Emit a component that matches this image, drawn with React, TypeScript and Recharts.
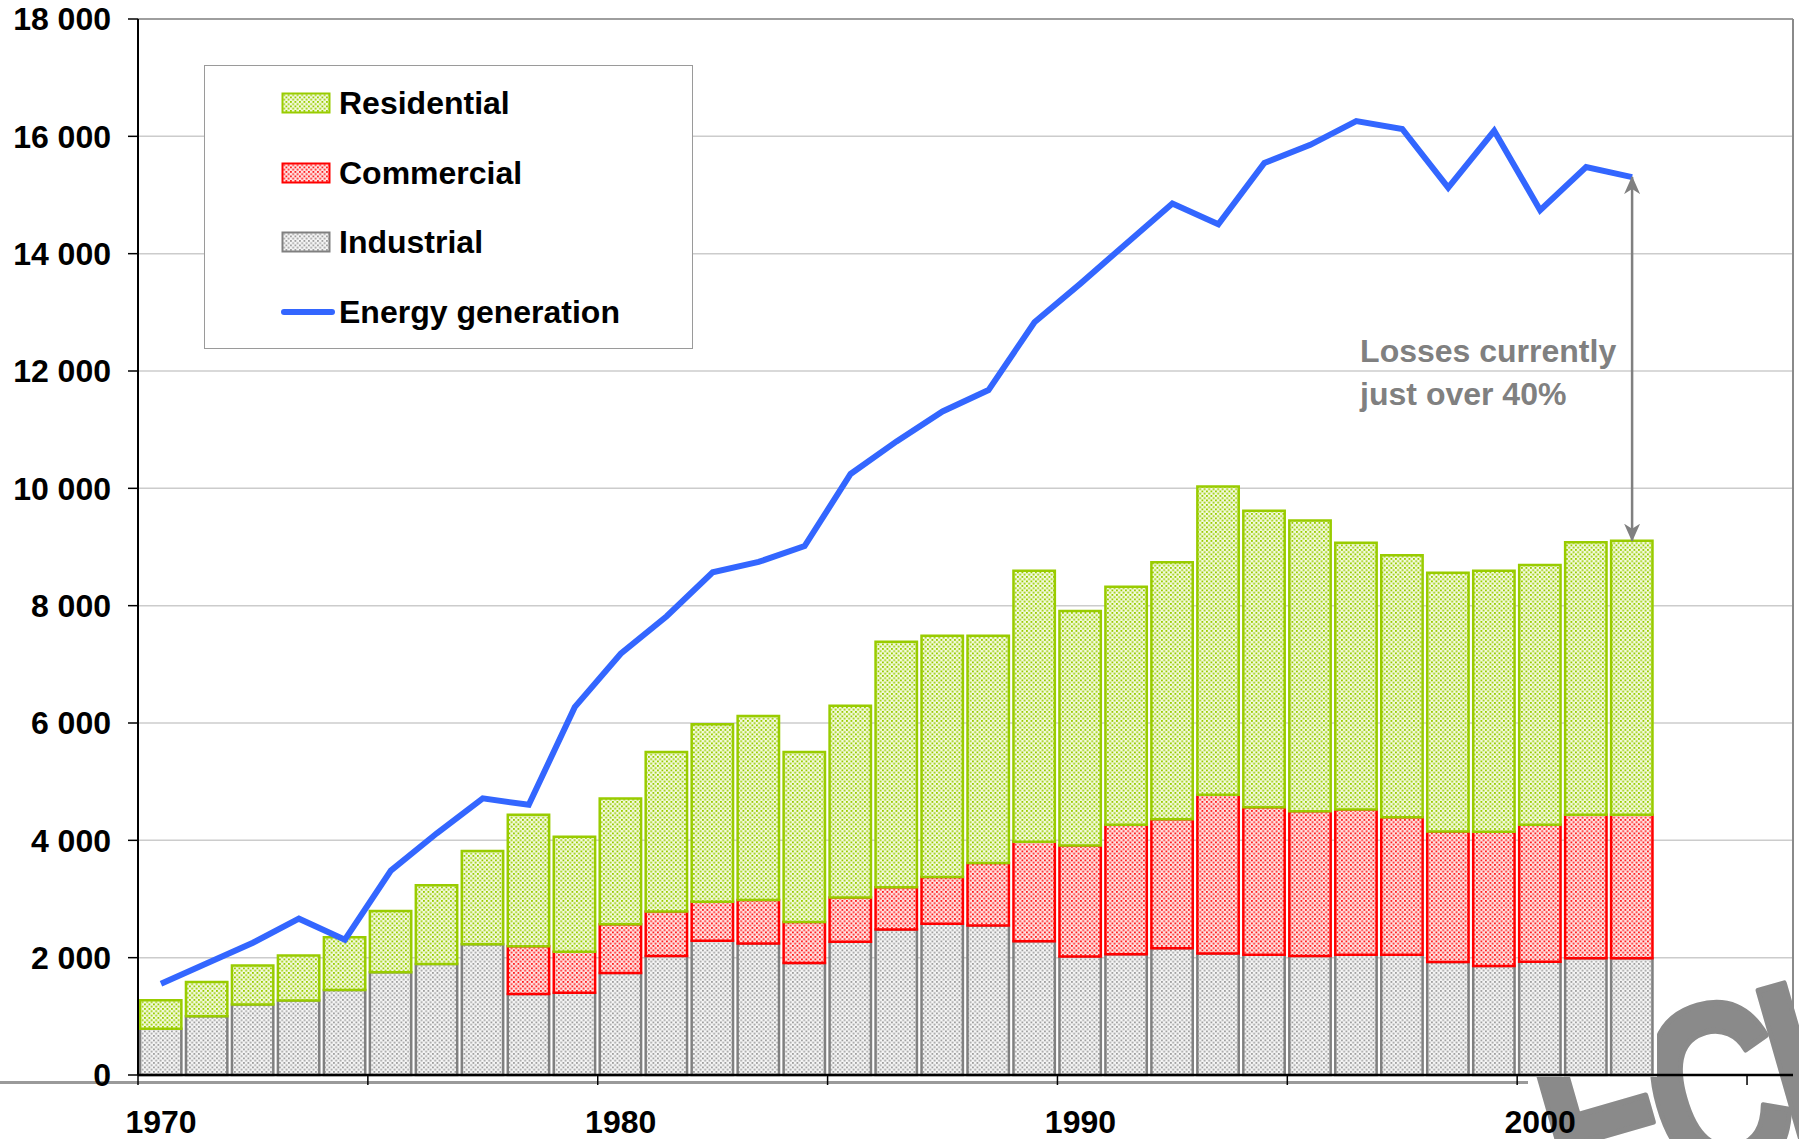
import React from "react";
import {
  ComposedChart,
  Bar,
  Line,
  XAxis,
  YAxis,
  CartesianGrid,
  Legend,
  ReferenceLine,
} from "recharts";

// values, one per year 1970..2002
const YEARS = [
  1970, 1971, 1972, 1973, 1974, 1975, 1976, 1977, 1978, 1979, 1980, 1981,
  1982, 1983, 1984, 1985, 1986, 1987, 1988, 1989, 1990, 1991, 1992, 1993,
  1994, 1995, 1996, 1997, 1998, 1999, 2000, 2001, 2002,
];
const INDUSTRIAL = [
  790, 1000, 1200, 1270, 1450, 1750, 1890, 2230, 1380, 1400, 1740, 2030,
  2290, 2240, 1910, 2270, 2480, 2580, 2550, 2280, 2020, 2060, 2160, 2070,
  2050, 2030, 2050, 2050, 1925, 1860, 1930, 1990, 1990,
];
const COMMERCIAL = [
  null, null, null, null, null, null, null, null, 815, 700, 830, 755,
  662, 745, 700, 757, 720, 795, 1065, 1695, 1892, 2205, 2200, 2705,
  2512, 2465, 2475, 2345, 2225, 2285, 2335, 2445, 2445,
];
const RESIDENTIAL = [
  485, 585, 665, 765, 900, 1045, 1345, 1590, 2240, 1960, 2142, 2720,
  3028, 3133, 2895, 3267, 4186, 4111, 3871, 4620, 3998, 4058, 4378, 5255,
  5055, 4955, 4547, 4465, 4410, 4450, 4429, 4645, 4673,
];
const GENERATION = [
  1555, 1905, 2255, 2665, 2305, 3485, 4120, 4715, 4605, 6270, 7180, 7820,
  8570, 8745, 9015, 10245, 10800, 11310, 11675, 12830, 13490, 14175, 14855, 14500,
  15545, 15855, 16260, 16125, 15125, 16095, 14740, 15475, 15305,
];

const X_DOMAIN = [1970, 2006];
const X_TICKS = [1970, 1975, 1980, 1985, 1990, 1995, 2000, 2005];
const LABELED_YEARS = [1970, 1980, 1990, 2000];
const Y_TICKS = [0, 2000, 4000, 6000, 8000, 10000, 12000, 14000, 16000, 18000];
const LEGEND_ORDER = ["residential", "commercial", "industrial", "generation"];
const NOTE = ["Losses currently", "just over 40%"];

const W = 1799;
const H = 1139;
const MARGIN = { top: 19, right: 6, bottom: 4, left: 0 };
const Y_AXIS_W = 138;
const X_AXIS_H = 60;
const PLOT_W = W - MARGIN.left - MARGIN.right - Y_AXIS_W;
const YEAR_PX = PLOT_W / (X_DOMAIN[1] - X_DOMAIN[0]);
const FONT = "'Liberation Sans', Arial, Helvetica, sans-serif";
const TXT = 32;

const SWATCH: Record<string, { fill?: string; stroke: string }> = {
  residential: { fill: "url(#pat-res)", stroke: "#99CC00" },
  commercial: { fill: "url(#pat-com)", stroke: "#FF0000" },
  industrial: { fill: "url(#pat-ind)", stroke: "#808080" },
  generation: { stroke: "#3366FF" },
};

const data = YEARS.map((year, i) => ({
  year,
  x: year + 0.5,
  industrial: INDUSTRIAL[i],
  commercial: COMMERCIAL[i],
  residential: RESIDENTIAL[i],
  generation: GENERATION[i],
}));

const last = data[data.length - 1];
const lastTotal = last.industrial + (last.commercial || 0) + last.residential;

const fmt = (v: number) => String(v).replace(/\B(?=(\d{3})+(?!\d))/g, " ");

function YearTick(props: any) {
  const { x, y, payload } = props;
  if (!LABELED_YEARS.includes(payload.value)) return null;
  return (
    <text
      x={x + YEAR_PX / 2}
      y={y}
      dy="0.71em"
      textAnchor="middle"
      fontSize={TXT}
      fontWeight={700}
      fill="#000"
    >
      {payload.value}
    </text>
  );
}

function LossArrow(props: any) {
  const { x1, y1, x2, y2 } = props;
  return (
    <g>
      <line
        x1={x1}
        y1={y1}
        x2={x2}
        y2={y2}
        stroke="#808080"
        strokeWidth={2.5}
        markerStart="url(#arrowhead)"
        markerEnd="url(#arrowhead)"
      />
      <text fontSize={TXT} fontWeight={700} fill="#808080">
        <tspan x={x1 - 272} y={y1 + 185}>
          {NOTE[0]}
        </tspan>
        <tspan x={x1 - 272} dy={43}>
          {NOTE[1]}
        </tspan>
      </text>
    </g>
  );
}

function LegendBox({ payload }: any) {
  const items = LEGEND_ORDER.map((k) =>
    (payload || []).find((p: any) => p.dataKey === k)
  ).filter(Boolean);
  return (
    <div
      style={{
        width: 489,
        height: 284,
        boxSizing: "border-box",
        border: "1.5px solid #9a9a9a",
        background: "#fff",
        paddingTop: 2,
        fontFamily: FONT,
      }}
    >
      {items.map((item: any) => {
        const sw = SWATCH[item.dataKey];
        return (
          <div
            key={item.dataKey}
            style={{ display: "flex", alignItems: "center", height: 69.7 }}
          >
            <svg width={54} height={22} style={{ marginLeft: 76 }}>
              {sw.fill ? (
                <rect
                  x={1.5}
                  y={1.5}
                  width={47}
                  height={19}
                  fill={sw.fill}
                  stroke={sw.stroke}
                  strokeWidth={2}
                />
              ) : (
                <line
                  x1={3}
                  y1={11}
                  x2={51}
                  y2={11}
                  stroke={sw.stroke}
                  strokeWidth={6}
                  strokeLinecap="round"
                />
              )}
            </svg>
            <span
              style={{
                marginLeft: 4,
                fontSize: TXT,
                fontWeight: 700,
                color: "#000",
                lineHeight: 1,
              }}
            >
              {item.value}
            </span>
          </div>
        );
      })}
    </div>
  );
}

function Dots({ id, bg, dot }: { id: string; bg: string; dot: string }) {
  return (
    <pattern id={id} width={4.5} height={4.5} patternUnits="userSpaceOnUse">
      <rect width={4.5} height={4.5} fill={bg} />
      <rect x={0} y={0} width={1.8} height={1.8} fill={dot} />
      <rect x={2.25} y={2.25} width={1.8} height={1.8} fill={dot} />
    </pattern>
  );
}

export default function App() {
  return (
    <div
      style={{
        position: "absolute",
        left: 0,
        top: 0,
        width: W,
        height: H,
        background: "#fff",
        overflow: "hidden",
        fontFamily: FONT,
      }}
    >
      <svg width={0} height={0} style={{ position: "absolute" }}>
        <defs>
          <Dots id="pat-res" bg="#F3FADF" dot="#99CC00" />
          <Dots id="pat-com" bg="#FFE3E3" dot="#FF2020" />
          <Dots id="pat-ind" bg="#F6F6F6" dot="#A0A0A0" />
          <marker
            id="arrowhead"
            viewBox="0 0 18 18"
            markerUnits="userSpaceOnUse"
            markerWidth={18}
            markerHeight={18}
            refX={17}
            refY={9}
            orient="auto-start-reverse"
          >
            <path d="M0,1 L18,9 L0,17 L5,9 z" fill="#808080" />
          </marker>
          {/* the logo only shows below the axis and right of the last bar */}
          <clipPath id="logo-clip">
            <path d="M0,1077 H1799 V1139 H0 Z M1657,0 H1799 V1139 H1657 Z" />
          </clipPath>
        </defs>
      </svg>

      {/* watermark logo, cut off by the page edge */}
      <svg
        width={W}
        height={H}
        style={{ position: "absolute", left: 0, top: 0 }}
      >
        <g clipPath="url(#logo-clip)">
          <g transform="translate(1567,1221) rotate(-16) scale(0.78,1)">
            <text
              fontSize={245}
              fontWeight={700}
              letterSpacing={-20}
              fill="#8a8a8a"
              stroke="#8a8a8a"
              strokeWidth={6}
              strokeLinejoin="round"
              fontFamily={FONT}
            >
              ECI
            </text>
          </g>
        </g>
      </svg>

      <div
        style={{
          position: "absolute",
          left: 0,
          top: 1081,
          width: 1528,
          height: 3,
          background: "#9a9a9a",
        }}
      />

      <div style={{ position: "absolute", left: 0, top: 0 }}>
        <ComposedChart width={W} height={H} data={data} margin={MARGIN}>
          <CartesianGrid
            vertical={false}
            stroke="#cccccc"
            strokeWidth={1.5}
          />
          <XAxis
            type="number"
            dataKey="x"
            domain={X_DOMAIN}
            ticks={X_TICKS}
            interval={0}
            height={X_AXIS_H}
            axisLine={{ stroke: "#000", strokeWidth: 2.5 }}
            tickLine={{ stroke: "#000", strokeWidth: 1.5 }}
            tickSize={10}
            tickMargin={25}
            tick={<YearTick />}
          />
          <YAxis
            type="number"
            domain={[0, 18000]}
            ticks={Y_TICKS}
            interval={0}
            width={Y_AXIS_W}
            tickFormatter={fmt}
            axisLine={{ stroke: "#000", strokeWidth: 2 }}
            tickLine={{ stroke: "#000", strokeWidth: 1.5 }}
            tickSize={10}
            tickMargin={17}
            tick={{ fontSize: TXT, fontWeight: 700, fill: "#000" }}
          />
          <ReferenceLine y={18000} stroke="#8a8a8a" strokeWidth={1.5} />
          <ReferenceLine x={X_DOMAIN[1]} stroke="#8a8a8a" strokeWidth={2} />
          <Legend
            layout="vertical"
            align="center"
            verticalAlign="middle"
            wrapperStyle={{ left: 204, top: 65, width: 489, height: 284 }}
            content={<LegendBox />}
          />
          <Bar
            dataKey="industrial"
            name="Industrial"
            stackId="use"
            fill={SWATCH.industrial.fill}
            stroke={SWATCH.industrial.stroke}
            strokeWidth={2.5}
            barSize={YEAR_PX}
            isAnimationActive={false}
          />
          <Bar
            dataKey="commercial"
            name="Commercial"
            stackId="use"
            fill={SWATCH.commercial.fill}
            stroke={SWATCH.commercial.stroke}
            strokeWidth={2.5}
            barSize={YEAR_PX}
            isAnimationActive={false}
          />
          <Bar
            dataKey="residential"
            name="Residential"
            stackId="use"
            fill={SWATCH.residential.fill}
            stroke={SWATCH.residential.stroke}
            strokeWidth={2.5}
            barSize={YEAR_PX}
            isAnimationActive={false}
          />
          <Line
            dataKey="generation"
            name="Energy generation"
            type="linear"
            stroke={SWATCH.generation.stroke}
            strokeWidth={6}
            dot={false}
            activeDot={false}
            isAnimationActive={false}
          />
          <ReferenceLine
            segment={[
              { x: last.x, y: last.generation },
              { x: last.x, y: lastTotal },
            ]}
            ifOverflow="visible"
            shape={<LossArrow />}
          />
        </ComposedChart>
      </div>
    </div>
  );
}
